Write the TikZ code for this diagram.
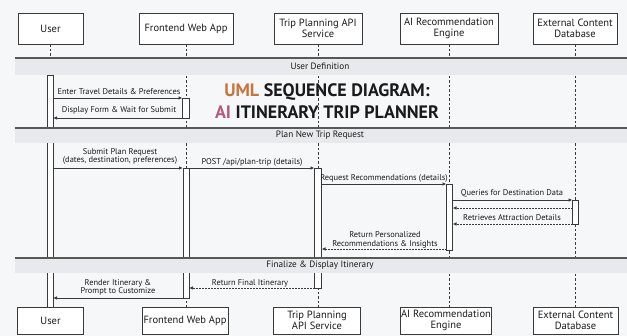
\documentclass[tikz,border=0pt]{standalone}
\usepackage{fontspec}
\setmainfont{PT Sans}
\usetikzlibrary{arrows.meta}
\definecolor{bg}{HTML}{F6F7F9}
\definecolor{band}{HTML}{E7E9EC}
\definecolor{ln}{HTML}{3A3A3A}
\definecolor{umlc}{HTML}{C8723C}
\definecolor{aic}{HTML}{B45A7E}
\definecolor{ttl}{HTML}{1A1A1A}
\tikzset{
  actor/.style={draw=ln, line width=0.9pt, fill=white, align=center, font=\fontsize{10.5}{11}\selectfont, text=ttl, inner sep=1pt},
  life/.style={draw=ln, line width=0.8pt, dash pattern=on 2.5pt off 2pt},
  actbar/.style={draw=ln, line width=0.8pt, fill=white},
  sep/.style={draw=ln!85, line width=1.3pt},
  bandlbl/.style={font=\fontsize{9.2}{10}\selectfont, text=ttl},
  msg/.style={draw=ln, line width=0.8pt, -{Latex[length=4pt,width=3.5pt]}},
  rmsg/.style={msg, dash pattern=on 1.5pt off 1.5pt},
  mlbl/.style={font=\fontsize{8.4}{8.6}\selectfont, text=ttl, align=center, inner sep=0pt},
}
\begin{document}
\begin{tikzpicture}[x=1pt,y=-1pt]
\fill[bg] (0,0) rectangle (627,336);
\useasboundingbox (0,0) rectangle (627,336);
% top actors
\node[actor, minimum width=65, minimum height=31] (tU) at (50.5,28.5) {User};
\node[actor, minimum width=94, minimum height=31] (tF) at (186,28.5) {Frontend Web App};
\node[actor, minimum width=88, minimum height=31] (tT) at (318,28.5) {Trip Planning API\\Service};
\node[actor, minimum width=98, minimum height=31] (tA) at (449,28.5) {AI Recommendation\\Engine};
\node[actor, minimum width=84, minimum height=31] (tE) at (575,28.5) {External Content\\Database};
% bottom actors
\node[actor, minimum width=66, minimum height=27] (bU) at (50.5,320.5) {User};
\node[actor, minimum width=86, minimum height=27] (bF) at (185,320.5) {Frontend Web App};
\node[actor, minimum width=87, minimum height=27] (bT) at (317,320.5) {Trip Planning\\API Service};
\node[actor, minimum width=84, minimum height=27] (bA) at (446,320.5) {AI Recommendation\\Engine};
\node[actor, minimum width=85, minimum height=27] (bE) at (575.5,320.5) {External Content\\Database};
% lifelines
\draw[life] (tU.south) -- (bU.north);
\draw[life] (tF.south) -- (bF.north -| tF.south);
\draw[life] (tT.south) -- (bT.north -| tT.south);
\draw[life] (tA.south) -- (bA.north -| tA.south);
\draw[life] (tE.south) -- (bE.north -| tE.south);
% activation bars
\draw[actbar] (47,75) rectangle (53,307);
\draw[actbar] (182.5,98) rectangle (189,118);
\draw[actbar] (183,168) rectangle (189,298);
\draw[actbar] (314.5,168) rectangle (321.5,288);
\draw[actbar] (446.5,184) rectangle (452.5,250);
\draw[actbar] (572.5,200) rectangle (578.5,224);
% bands
\fill[band] (15,58) rectangle (627,75);
\fill[band] (15,128) rectangle (627,143);
\fill[band] (15,258) rectangle (627,273);
\draw[sep] (15,58) -- (627,58);
\draw[sep] (15,128) -- (627,128);
\draw[sep] (15,258) -- (627,258);
\node[bandlbl] (b1) at (320,66.5) {User Definition};
\node[bandlbl] (b2) at (320,135.5) {Plan New Trip Request};
\node[bandlbl] (b3) at (320,265.5) {Finalize \& Display Itinerary};
% title
\node[font=\fontsize{18}{20}\bfseries, text=ttl, inner sep=0pt] (t1) at (327,92) {\textcolor{umlc}{UML} SEQUENCE DIAGRAM:};
\node[font=\fontsize{18}{20}\bfseries, text=ttl, inner sep=0pt] (t2) at (327,112) {\textcolor{aic}{AI} ITINERARY TRIP PLANNER};
% coordinates for messages
\coordinate (u1) at (53,98);   \coordinate (f1) at (182.5,98);
\coordinate (f2) at (182.5,118); \coordinate (u2) at (53,118);
\coordinate (u3) at (53,168);  \coordinate (f3) at (183,168);
\coordinate (f4) at (189,168); \coordinate (p4) at (314.5,168);
\coordinate (p5) at (321.5,184); \coordinate (a5) at (446.5,184);
\coordinate (a6) at (452.5,200); \coordinate (e6) at (572.5,200);
\coordinate (e7) at (572.5,208); \coordinate (a7) at (452.5,208);
\coordinate (e8) at (572.5,224); \coordinate (a8) at (452.5,224);
\coordinate (a9) at (446.5,249); \coordinate (p9) at (321.5,249);
\coordinate (p10) at (314.5,288); \coordinate (f10) at (189,288);
\coordinate (f11) at (183,298); \coordinate (u11) at (53,298);
% messages
\draw[msg] (u1) -- (f1);
\node[mlbl] (l1) at (119,92) {Enter Travel Details \& Preferences};
\draw[msg] (f2) -- (u2);
\node[mlbl] (l2) at (119,110.5) {Display Form \& Wait for Submit};
\draw[msg] (u3) -- (f3);
\node[mlbl] (l3) at (120,156.5) {Submit Plan Request\\(dates, destination, preferences)};
\draw[msg] (f4) -- (p4);
\node[mlbl] (l4) at (252,162) {POST /api/plan-trip (details)};
\draw[msg] (p5) -- (a5);
\node[mlbl] (l5) at (384,178) {Request Recommendations (details)};
\draw[msg] (a6) -- (e6);
\node[mlbl] (l6) at (512,193.5) {Queries for Destination Data};
\draw[rmsg] (e7) -- (a7);
\draw[rmsg] (e8) -- (a8);
\node[mlbl] (l8) at (512,218) {Retrieves Attraction Details};
\draw[rmsg] (a9) -- (p9);
\node[mlbl] (l9) at (385,240) {Return Personalized\\Recommendations \& Insights};
\draw[rmsg] (p10) -- (f10);
\node[mlbl] (l10) at (250,283) {Return Final Itinerary};
\draw[msg] (f11) -- (u11);
\node[mlbl] (l11) at (118,287.5) {Render Itinerary \&\\Prompt to Customize};
\end{tikzpicture}
\end{document}
